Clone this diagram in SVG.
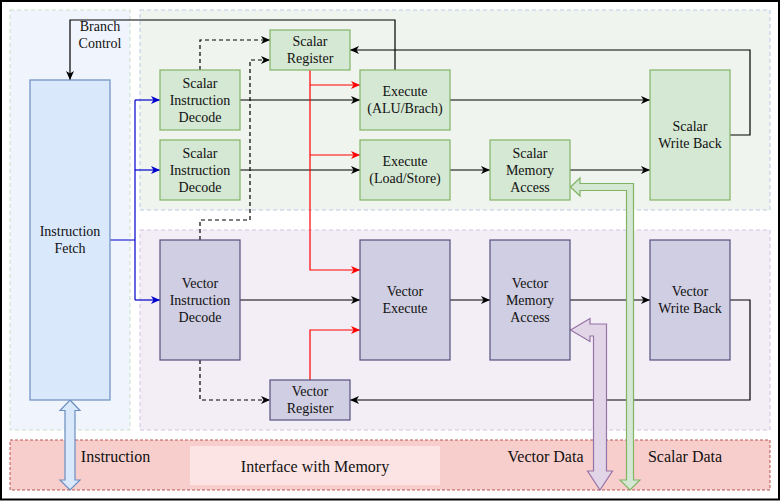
<svg xmlns="http://www.w3.org/2000/svg" width="782" height="502" viewBox="0 0 782 502" font-family="'Liberation Serif', 'Times New Roman', serif">
<defs>
<marker id="ab" markerUnits="userSpaceOnUse" markerWidth="10" markerHeight="10" refX="9" refY="5" orient="auto"><path d="M0,1 L9,5 L0,9 L2.5,5 z" fill="#000"/></marker>
<marker id="au" markerUnits="userSpaceOnUse" markerWidth="10" markerHeight="10" refX="9" refY="5" orient="auto"><path d="M0,1 L9,5 L0,9 L2.5,5 z" fill="#0000cc"/></marker>
<marker id="ar" markerUnits="userSpaceOnUse" markerWidth="10" markerHeight="10" refX="9" refY="5" orient="auto"><path d="M0,1 L9,5 L0,9 L2.5,5 z" fill="#ff0000"/></marker>
</defs>
<style>
text{font-family:'Liberation Serif','Times New Roman',serif;font-size:14px;fill:#111;text-anchor:middle;dominant-baseline:central}
.big{font-size:16px}
.sc{fill:#d5e8d4;stroke:#82b366;stroke-width:1.2}
.vc{fill:#d0cee2;stroke:#56517e;stroke-width:1.2}
.bl{fill:#dae8fc;stroke:#6c8ebf;stroke-width:1.2}
.k{fill:none;stroke:#000;stroke-width:1.2;marker-end:url(#ab)}
.d{fill:none;stroke:#000;stroke-width:1.2;stroke-dasharray:4 3;marker-end:url(#ab)}
.u{fill:none;stroke:#0000cc;stroke-width:1.2;marker-end:url(#au)}
.un{fill:none;stroke:#0000cc;stroke-width:1.2}
.r{fill:none;stroke:#ff0000;stroke-width:1.2;marker-end:url(#ar)}
</style>
<rect x="0" y="0" width="782" height="502" fill="#fff"/>
<rect x="1" y="1" width="778" height="498.5" fill="#fff" stroke="#000" stroke-width="2"/>
<g id="panels">
<rect x="10" y="10" width="120" height="420" fill="#f0f5fd" stroke="#c9e0c4" stroke-dasharray="4 3"/>
<rect x="140" y="10" width="630" height="200" fill="#eff5ee" stroke="#b9cbe3" stroke-dasharray="4 3"/>
<rect x="140" y="230" width="630" height="200" fill="#f3eef6" stroke="#d4c2e0" stroke-dasharray="4 3"/>
<rect x="10" y="440" width="760" height="50" fill="#f8cecc" stroke="#b85450" stroke-dasharray="3 2"/>
<rect x="190" y="446" width="250" height="39" fill="#fce4e4"/>
<text x="315" y="466" class="big">Interface with Memory</text>
<text x="115.5" y="456" class="big">Instruction</text>
<text x="545.5" y="456" class="big">Vector Data</text>
<text x="685" y="456" class="big">Scalar Data</text>
<text x="100" y="26">Branch</text>
<text x="100" y="43">Control</text>
</g>
<g id="connectors">
<path class="k" d="M395,70 V20 H70 V80"/>
<path class="un" d="M110,240 H135 M135,100 V300"/>
<path class="u" d="M135,100 H160"/>
<path class="u" d="M135,170 H160"/>
<path class="u" d="M135,300 H160"/>
<path class="k" d="M240,100 H360"/>
<path class="k" d="M240,170 H360"/>
<path class="k" d="M240,300 H360"/>
<path class="k" d="M450,100 H650"/>
<path class="k" d="M450,170 H490"/>
<path class="k" d="M570,170 H650"/>
<path class="k" d="M450,300 H490"/>
<path class="k" d="M570,300 H650"/>
<path class="k" d="M730,135 H750 V50 H350"/>
<path class="k" d="M730,300 H750 V400 H350"/>
<path class="d" d="M200,70 V40 H270"/>
<path class="d" d="M200,240 V220 H250 V60 H270"/>
<path class="d" d="M200,360 V400 H270"/>
<path class="r" d="M310,70 V270 H360"/>
<path class="r" d="M310,85 H360"/>
<path class="r" d="M310,155 H360"/>
<path class="r" d="M310,380 V330 H360"/>
<path d="M70,400 L80,410.5 L75,410.5 L75,480 L80,480 L70,490 L60,480 L65,480 L65,410.5 L60,410.5 Z" fill="#dae8fc" stroke="#6c8ebf" stroke-width="1.2"/>
<path d="M570.5,330 L590,318.5 L590,324 L606.5,324 L606.5,471 L612.5,471 L600,490 L587.5,471 L593.5,471 L593.5,336 L590,336 L590,341.5 Z" fill="#e1d5e7" stroke="#9673a6" stroke-width="1.2"/>
<path d="M570.5,187 L580,178 L580,183.5 L633.5,183.5 L633.5,480 L640,480 L630,490 L620,480 L626.5,480 L626.5,190.5 L580,190.5 L580,196 Z" fill="#d5e8d4" stroke="#82b366" stroke-width="1.2"/>
</g>
<g id="n-fetch"><rect class="bl" x="30" y="80" width="80" height="320"/><text x="70" y="231.5">Instruction</text><text x="70" y="248.5">Fetch</text></g>
<g id="n-sid1"><rect class="sc" x="160" y="70" width="80" height="60"/><text x="200" y="83">Scalar</text><text x="200" y="100">Instruction</text><text x="200" y="117">Decode</text></g>
<g id="n-sid2"><rect class="sc" x="160" y="140" width="80" height="60"/><text x="200" y="153">Scalar</text><text x="200" y="170">Instruction</text><text x="200" y="187">Decode</text></g>
<g id="n-sreg"><rect class="sc" x="270" y="30" width="80" height="40"/><text x="310" y="41.5">Scalar</text><text x="310" y="58.5">Register</text></g>
<g id="n-exalu"><rect class="sc" x="360" y="70" width="90" height="60"/><text x="405" y="91.5">Execute</text><text x="405" y="108.5">(ALU/Brach)</text></g>
<g id="n-exls"><rect class="sc" x="360" y="140" width="90" height="60"/><text x="405" y="161.5">Execute</text><text x="405" y="178.5">(Load/Store)</text></g>
<g id="n-sma"><rect class="sc" x="490" y="140" width="80" height="60"/><text x="530" y="153">Scalar</text><text x="530" y="170">Memory</text><text x="530" y="187">Access</text></g>
<g id="n-swb"><rect class="sc" x="650" y="70" width="80" height="130"/><text x="690" y="126.5">Scalar</text><text x="690" y="143.5">Write Back</text></g>
<g id="n-vid"><rect class="vc" x="160" y="240" width="80" height="120"/><text x="200" y="283">Vector</text><text x="200" y="300">Instruction</text><text x="200" y="317">Decode</text></g>
<g id="n-vex"><rect class="vc" x="360" y="240" width="90" height="120"/><text x="405" y="291.5">Vector</text><text x="405" y="308.5">Execute</text></g>
<g id="n-vma"><rect class="vc" x="490" y="240" width="80" height="120"/><text x="530" y="283">Vector</text><text x="530" y="300">Memory</text><text x="530" y="317">Access</text></g>
<g id="n-vwb"><rect class="vc" x="650" y="240" width="80" height="120"/><text x="690" y="291.5">Vector</text><text x="690" y="308.5">Write Back</text></g>
<g id="n-vreg"><rect class="vc" x="270" y="380" width="80" height="40"/><text x="310" y="391.5">Vector</text><text x="310" y="408.5">Register</text></g>
</svg>
